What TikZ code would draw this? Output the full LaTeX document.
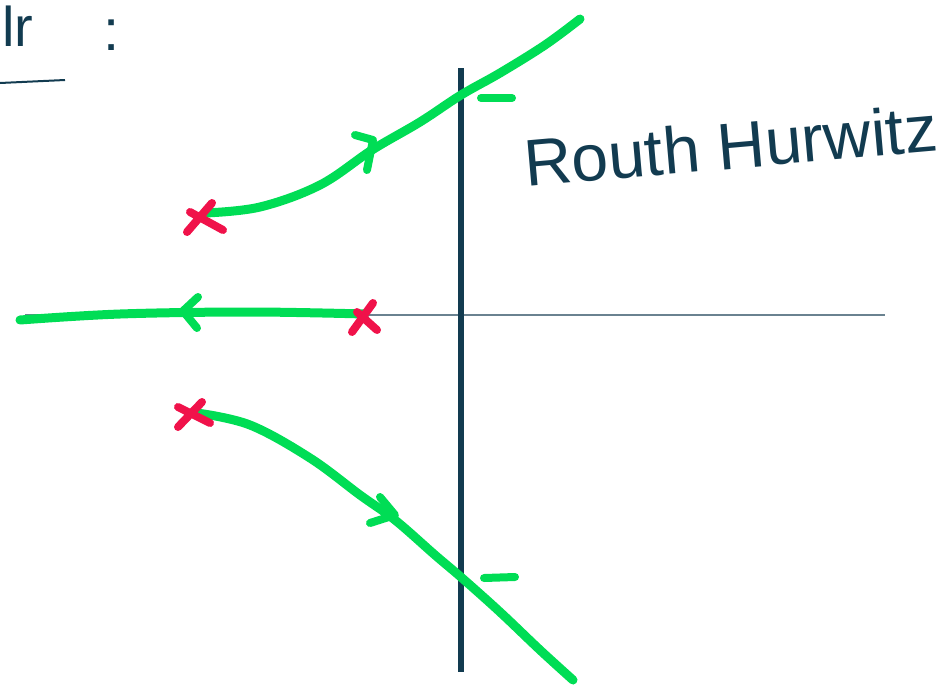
\documentclass[tikz,border=0pt]{standalone}
\usepackage{fontspec}
\setmainfont{Liberation Sans}
\definecolor{grn}{HTML}{00DD55}
\definecolor{redx}{HTML}{F0124A}
\definecolor{navy}{HTML}{123B50}
\definecolor{axisg}{HTML}{6A8290}
\begin{document}
\begin{tikzpicture}[x=1pt,y=-1pt,
  locus/.style={grn, line width=9pt, line cap=round, line join=round},
  chev/.style={grn, line width=8pt, line cap=round, line join=round},
  polex/.style={redx, line width=8pt, line cap=round},
  ink/.style={navy}]
\useasboundingbox (0,0) rectangle (947,686);
% axes
\coordinate (ytop) at (461,68);
\coordinate (ybot) at (461,672);
\coordinate (xl) at (25,315);
\coordinate (xr) at (885,315);
\draw[axisg, line width=1.5pt] (xl) -- (xr);
\draw[navy, line width=6pt] (ytop) -- (ybot);
% poles
\coordinate (p1) at (205,213);
\coordinate (p2) at (365,314);
\coordinate (p3) at (197,413);
% loci
\draw[locus] plot[smooth, tension=0.6] coordinates {(p1) (260,207) (320,185) (372,150) (420,122) (461,95) (500,73) (545,45) (580,19)};
\draw[locus] plot[smooth, tension=0.6] coordinates {(p2) (250,312) (120,314) (20,320)};
\draw[locus] plot[smooth, tension=0.6] coordinates {(p3) (250,425) (310,458) (360,495) (395,520) (435,555) (462,578) (500,612) (540,650) (573,680)};
% arrow chevrons
\draw[chev] (355,135) -- (373,140) -- (367,170);
\draw[chev] (198,297) -- (183,311) -- (197,328);
\draw[chev] (380,497) -- (395,515) -- (370,523);
% crossing dashes
\draw[chev] (481,98) -- (512,98);
\draw[chev] (484,578) -- (515,577);
% pole crosses
\draw[polex] (187,232) -- (212,203) (190,212) -- (223,230);
\draw[polex] (352,332) -- (373,303) (357,312) -- (377,330);
\draw[polex] (178,427) -- (202,402) (178,407) -- (210,423);
% texts
\node[navy, rotate=5, font=\fontsize{66}{66}\selectfont, anchor=base west, inner sep=0pt] (rh) at (526,187) {Routh Hurwitz};
\node[navy, font=\fontsize{56}{56}\selectfont, anchor=base west, inner sep=0pt] (lr) at (2,46) {lr};
\node[navy, font=\fontsize{58}{58}\selectfont, anchor=base west, inner sep=0pt] (colon) at (103,50) {:};
\draw[navy, line width=2pt] (0,83) -- (65,80);
\end{tikzpicture}
\end{document}
